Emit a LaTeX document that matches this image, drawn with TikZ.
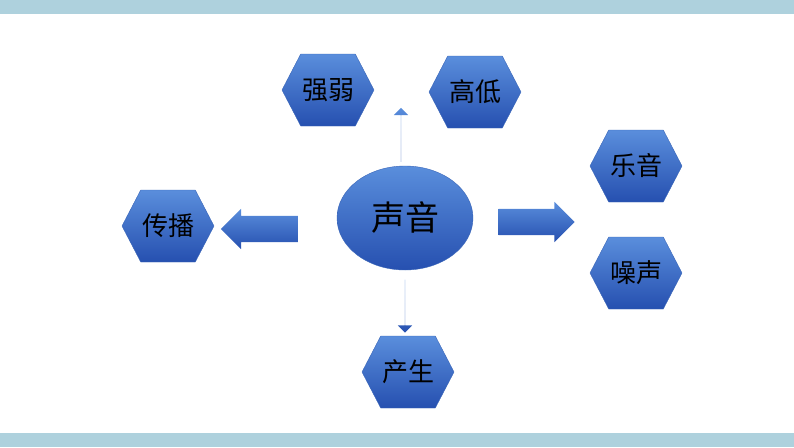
\documentclass[tikz,border=0pt]{standalone}
\usepackage{fontspec}
\newfontfamily\cjk{Noto Sans CJK SC}
\usetikzlibrary{shapes.symbols,shapes.arrows,shapes.geometric}
\definecolor{band}{HTML}{AED1DD}
\definecolor{topblue}{HTML}{5A8EDC}
\definecolor{botblue}{HTML}{2650B0}
\definecolor{edgeblue}{HTML}{3A66B8}

\begin{document}
\begin{tikzpicture}[x=1pt, y=-1pt,
    hexbox/.style={
        signal, signal to=west and east, signal pointer angle=125,
        minimum width=92pt, minimum height=72pt, inner sep=0pt,
        draw=edgeblue, top color=topblue, bottom color=botblue,
        font=\cjk\fontsize{26}{26}\selectfont
    },
    bigarrow/.style={
        single arrow, single arrow head extend=7pt, inner xsep=0pt,
        inner ysep=13pt, text height=0pt, text depth=0pt,
        top color=topblue, bottom color=botblue, draw=none
    }]
    \useasboundingbox (0,0) rectangle (794,447);
    \fill[band] (0,0) rectangle (794,14);
    \fill[band] (0,433) rectangle (794,447);
    \node (shengyin) [ellipse, minimum width=136pt, minimum height=104pt,
        draw=edgeblue, top color=topblue, bottom color=botblue,
        font=\cjk\fontsize{34}{34}\selectfont] at (405,218) {声音};
    \node (qiangruo) [hexbox] at (328,90) {强弱};
    \node (gaodi) [hexbox] at (475,92) {高低};
    \node (yueyin) [hexbox] at (636,166) {乐音};
    \node (zaosheng) [hexbox] at (636,273) {噪声};
    \node (chuanbo) [hexbox] at (168,226) {传播};
    \node (chansheng) [hexbox] at (408,372) {产生};
    \node (arrow_up) [bigarrow, minimum height=54pt, shape border rotate=90] at (401,135) {};
    \node (arrow_left) [bigarrow, minimum height=77pt, shape border rotate=180] at (266,229) {};
    \node (arrow_right) [bigarrow, minimum height=76pt] at (530,222) {};
    \node (arrow_down) [bigarrow, minimum height=53pt, shape border rotate=270] at (405,306) {};
\end{tikzpicture}
\end{document}
